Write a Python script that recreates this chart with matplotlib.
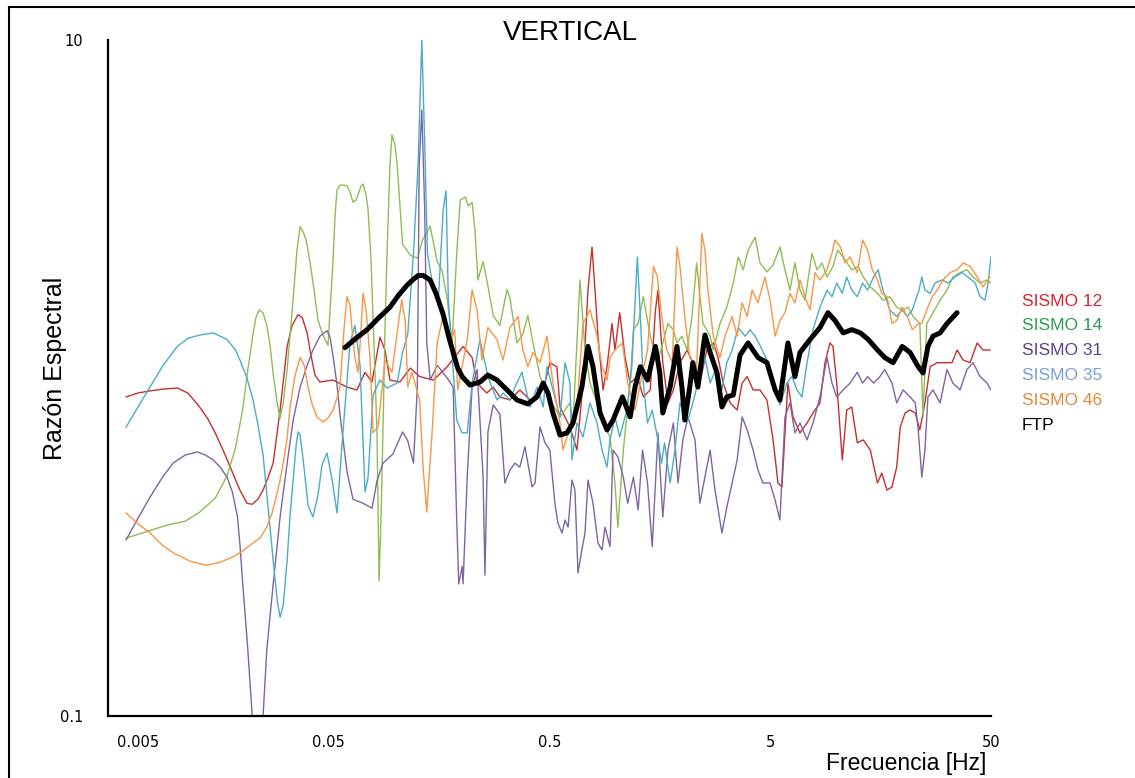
import matplotlib.pyplot as plt
from matplotlib.patches import Rectangle
from matplotlib.ticker import NullLocator
from matplotlib.transforms import ScaledTranslation

# SISMO 12
freq_12 = [0.00604, 0.00684, 0.00775, 0.00888, 0.0103, 0.0115, 0.0130, 0.0141, 0.0153, 0.0166,
           0.0179, 0.0191, 0.0198, 0.0213, 0.0225, 0.0239, 0.0252, 0.0265, 0.0280, 0.0301,
           0.0324, 0.0341, 0.0363, 0.0379, 0.0399, 0.0415, 0.0433, 0.0456, 0.0523,
           0.0605, 0.0671,
           0.0730, 0.0785, 0.0853, 0.0899, 0.0947, 0.105, 0.117, 0.129, 0.149, 0.172,
           0.203, 0.223, 0.235, 0.260, 0.278, 0.298, 0.331, 0.367, 0.408, 0.468,
           0.502, 0.540, 0.558, 0.619, 0.666, 0.709, 0.747, 0.779, 0.804, 0.829,
           0.874, 0.911, 0.960, 0.990, 1.04, 1.10, 1.16, 1.25, 1.33, 1.43,
           1.51, 1.55, 1.63, 1.72, 1.82, 1.95, 2.10, 2.23, 2.40, 2.58,
           2.76, 2.90, 3.06, 3.29, 3.54, 3.73, 3.93, 4.18, 4.49, 4.83,
           5.15, 5.42, 5.65, 5.83, 6.01, 6.34, 6.82, 7.34, 7.81, 8.40,
           8.85, 9.32, 9.62, 10.0, 10.6, 11.1, 11.7, 12.4, 13.2, 14.2,
           15.3, 16.0, 16.9, 17.8, 18.7, 19.4, 20.4, 21.5, 22.7, 23.8,
           25.1, 26.5, 28.5, 31.0, 33.3, 35.1, 37.4, 40.2, 43.3, 46.0, 49.5]
amp_12 = [0.879, 0.903, 0.916, 0.927, 0.934, 0.903, 0.821, 0.761, 0.688, 0.612,
          0.545, 0.492, 0.466, 0.426, 0.423, 0.438, 0.466, 0.506, 0.560, 0.804,
          1.24, 1.43, 1.54, 1.51, 1.36, 1.17, 1.02, 0.973, 0.986,
          0.940, 0.922,
          1.04, 0.973, 1.32, 1.21, 0.986, 0.973, 1.07, 1.01, 0.986, 1.08,
          1.24, 1.15, 0.966, 0.903, 0.940, 0.879, 0.861, 0.922, 0.861, 0.922,
          1.11, 1.08, 0.821, 0.716, 0.612, 0.966, 1.82, 2.44, 1.82, 1.33,
          0.922, 1.08, 1.45, 1.21, 1.56, 1.15, 0.966, 1.01, 0.879, 0.922,
          1.59, 1.82, 1.11, 0.844, 0.922, 1.11, 1.21, 1.11, 0.966, 1.21,
          1.27, 1.15, 0.966, 0.844, 0.804, 0.966, 1.01, 0.922, 0.922, 0.861,
          0.656, 0.489, 0.476, 0.688, 0.966, 0.767, 0.688, 0.736, 0.788, 0.844,
          1.11, 1.27, 1.24, 0.966, 0.572, 0.804, 0.821, 0.643, 0.656, 0.612,
          0.489, 0.523, 0.466, 0.476, 0.545, 0.716, 0.788, 0.804, 0.788, 0.702,
          0.844, 1.08, 1.11, 1.11, 1.11, 1.21, 1.13, 1.11, 1.27, 1.21, 1.21]

# SISMO 14
freq_14 = [0.00604, 0.00735, 0.00925, 0.0112, 0.0130, 0.0153, 0.0173, 0.0189, 0.0204, 0.0215,
           0.0227, 0.0234, 0.0242, 0.0252, 0.0262, 0.0271, 0.0280, 0.0292, 0.0301, 0.0311,
           0.0324, 0.0334, 0.0345, 0.0359, 0.0371, 0.0383, 0.0395, 0.0411, 0.0429, 0.0447,
           0.0471, 0.0496, 0.0523, 0.0534, 0.0545, 0.0562, 0.0586, 0.0605, 0.0624, 0.0644,
           0.0664, 0.0678, 0.0700, 0.0715, 0.0738, 0.0753, 0.0777, 0.0794, 0.0827, 0.0845,
           0.0862, 0.0880, 0.0899, 0.0918, 0.0947, 0.0967, 0.0998, 0.102, 0.105, 0.108,
           0.117, 0.126, 0.133, 0.144, 0.155, 0.163, 0.172, 0.181,
           0.190, 0.197, 0.208, 0.214, 0.223, 0.230, 0.237, 0.250, 0.260, 0.278,
           0.298, 0.321, 0.331, 0.356, 0.379, 0.399, 0.421, 0.453, 0.502, 0.558,
           0.619, 0.639, 0.687, 0.724, 0.763, 0.821, 0.874, 0.940, 0.990, 1.02,
           1.08, 1.16, 1.20, 1.26, 1.33, 1.43, 1.54, 1.63, 1.72, 1.82,
           1.89, 1.99, 2.10, 2.21, 2.32, 2.40, 2.48, 2.67, 2.76, 2.96,
           3.18, 3.40, 3.58, 3.77, 3.97, 4.27, 4.49, 4.83, 5.15, 5.53,
           5.83, 6.14, 6.47, 6.82, 7.18, 7.73, 8.14, 8.58, 9.04, 9.62,
           10.1, 10.9, 11.7, 12.5, 13.2, 14.2, 15.3, 16.2, 17.4, 18.7,
           19.8, 21.1, 22.2, 23.8, 24.6, 25.6, 27.3, 29.4, 31.6, 33.6,
           36.2, 38.9, 41.5, 44.6, 48.0, 50.0]
amp_14 = [0.336, 0.350, 0.367, 0.377, 0.401, 0.441, 0.513, 0.621, 0.810, 1.06,
          1.35, 1.51, 1.59, 1.56, 1.43, 1.25, 1.03, 0.844, 0.761, 0.844,
          1.06, 1.34, 1.72, 2.39, 2.81, 2.70, 2.56, 2.21, 1.82, 1.48,
          1.34, 1.25, 2.24, 3.03, 3.60, 3.72, 3.72, 3.70, 3.55, 3.31,
          3.36, 3.48, 3.70, 3.75, 3.48, 3.16, 2.24, 1.48, 0.693, 0.251,
          0.380, 0.693, 1.39, 2.34, 4.27, 5.24, 4.89, 4.30, 3.25, 2.49,
          2.31, 2.26, 2.56, 2.81, 2.21, 2.08, 1.72, 1.27,
          2.34, 3.36, 3.43, 3.23, 3.31, 2.72, 1.95, 2.21, 1.95, 1.53,
          1.43, 1.83, 1.72, 1.27, 1.35, 1.53, 1.27, 1.01, 0.861, 0.767,
          0.844, 0.736, 1.95, 1.21, 0.966, 0.844, 0.736, 0.669, 0.489, 0.362,
          0.612, 0.966, 1.39, 1.45, 1.74, 1.33, 1.11, 1.27, 1.45, 1.39,
          1.27, 1.33, 1.21, 1.52, 2.19, 1.74, 1.45, 1.33, 1.21, 1.45,
          1.62, 1.91, 2.28, 2.09, 2.39, 2.61, 2.19, 2.06, 2.16, 2.44,
          2.09, 1.82, 2.19, 1.82, 1.70, 2.34, 2.09, 2.19, 1.99, 2.14,
          2.39, 2.24, 2.09, 2.14, 1.99, 1.86, 1.78, 1.70, 1.74, 1.62,
          1.59, 1.62, 1.52, 1.45, 0.767, 1.45, 1.56, 1.70, 1.82, 1.99,
          2.05, 2.09, 1.99, 1.91, 1.95, 1.91]

# SISMO 31
freq_31 = [0.00604, 0.00684, 0.00775, 0.00878, 0.00986, 0.0112, 0.0127, 0.0138, 0.0150, 0.0161,
           0.0173, 0.0183, 0.0193, 0.0198, 0.0204, 0.0215, 0.0225, 0.0237, 0.0252, 0.0262,
           0.0280, 0.0292, 0.0301, 0.0324, 0.0345, 0.0371, 0.0399, 0.0424, 0.0456, 0.0491,
           0.0507, 0.0523, 0.0545, 0.0562, 0.0605, 0.0644,
           0.0715, 0.0785, 0.0827, 0.0880, 0.0977, 0.108, 0.114,
           0.121, 0.126, 0.1285, 0.132, 0.136, 0.139, 0.144, 0.155, 0.172, 0.183,
           0.190, 0.194, 0.201, 0.203, 0.212, 0.223, 0.235, 0.250, 0.255, 0.263,
           0.278, 0.298, 0.314, 0.331, 0.349, 0.367, 0.387, 0.417, 0.430, 0.453,
           0.477, 0.502, 0.529, 0.546, 0.570, 0.588, 0.607, 0.632, 0.652, 0.673,
           0.701, 0.724, 0.747, 0.787, 0.829, 0.865, 0.892, 0.940, 0.970, 1.02,
           1.08, 1.13, 1.20, 1.26, 1.32, 1.39, 1.46, 1.51, 1.55, 1.63,
           1.72, 1.82, 1.91, 2.01, 2.12, 2.28, 2.40, 2.53, 2.67, 2.81,
           3.02, 3.18, 3.36, 3.54, 3.73, 3.93, 4.18, 4.40, 4.63, 4.99,
           5.26, 5.53, 5.83, 6.14, 6.47, 6.82, 7.34, 7.81, 8.40, 9.04,
           9.52, 10.0, 10.7, 11.5, 12.4, 13.1, 13.8, 14.7, 15.7, 16.5,
           17.8, 18.7, 20.0, 21.5, 22.7, 23.4, 24.3, 25.1, 25.9, 27.3,
           29.4, 31.6, 33.6, 36.2, 38.9, 41.5, 44.6, 48.0, 50.0]
amp_31 = [0.332, 0.385, 0.444, 0.506, 0.560, 0.592, 0.604, 0.592, 0.572, 0.545,
          0.509, 0.460, 0.388, 0.321, 0.245, 0.157, 0.100, 0.074, 0.100, 0.157,
          0.245, 0.321, 0.388, 0.560, 0.751, 0.940, 1.09, 1.21, 1.33, 1.38,
          1.32, 1.16, 0.953, 0.782, 0.527, 0.438,
          0.426, 0.412, 0.496, 0.560, 0.596, 0.693, 0.652,
          0.560, 0.940, 4.30, 6.21, 3.16, 1.27, 0.986, 1.09, 1.00, 0.940,
          0.377, 0.246, 0.277, 0.246, 0.513, 0.940, 1.06, 0.513, 0.261, 0.693,
          0.832, 0.782, 0.489, 0.534, 0.560, 0.545, 0.626, 0.476, 0.489, 0.716,
          0.643, 0.612, 0.426, 0.372, 0.348, 0.380, 0.362, 0.499, 0.466, 0.265,
          0.310, 0.348, 0.499, 0.426, 0.325, 0.310, 0.362, 0.317, 0.612, 0.584,
          0.509, 0.426, 0.509, 0.407, 0.612, 0.489, 0.317, 0.489, 0.688, 0.388,
          0.612, 0.736, 0.489, 0.656, 0.767, 0.656, 0.426, 0.509, 0.612, 0.466,
          0.348, 0.415, 0.489, 0.572, 0.767, 0.702, 0.612, 0.534, 0.489, 0.489,
          0.435, 0.380, 0.767, 0.844, 0.688, 0.736, 0.656, 0.736, 0.879, 1.15,
          0.966, 0.879, 0.922, 0.966, 1.04, 0.966, 1.01, 0.966, 1.01, 1.06,
          0.966, 0.844, 0.922, 0.879, 0.844, 0.702, 0.509, 0.612, 0.879, 0.922,
          0.844, 1.06, 0.966, 0.922, 1.06, 1.11, 1.01, 0.966, 0.922]

# SISMO 35
freq_35 = [0.00604, 0.00684, 0.00775, 0.00888, 0.0103, 0.0115, 0.0130, 0.0150, 0.0173, 0.0189,
           0.0198, 0.0213, 0.0227, 0.0239, 0.0252, 0.0265, 0.0280, 0.0292, 0.0301, 0.0311,
           0.0324, 0.0334, 0.0345, 0.0356, 0.0363, 0.0371, 0.0383, 0.0403, 0.0424, 0.0447,
           0.0466, 0.0491, 0.0518, 0.0545,
           0.0580, 0.0624, 0.0657, 0.0693, 0.0730, 0.0753, 0.0794, 0.0853, 0.0918,
           0.102, 0.108, 0.114, 0.121, 0.127, 0.132, 0.136, 0.140, 0.149, 0.157,
           0.165, 0.170, 0.174, 0.183, 0.190, 0.201, 0.212, 0.223, 0.242, 0.263,
           0.289, 0.308, 0.331, 0.352, 0.375, 0.408, 0.439, 0.468, 0.487, 0.518,
           0.558, 0.588, 0.619, 0.632, 0.666, 0.709, 0.763, 0.821, 0.865, 0.911,
           0.940, 0.990, 1.04, 1.12, 1.18, 1.25, 1.29, 1.33, 1.39, 1.46,
           1.54, 1.61, 1.66, 1.76, 1.85, 1.95, 2.10, 2.23, 2.35, 2.53,
           2.67, 2.87, 3.02, 3.18, 3.36, 3.58, 3.85, 4.05, 4.27, 4.49,
           4.83, 5.15, 5.53, 5.95, 6.27, 6.61, 6.96, 7.34, 7.81, 8.40,
           9.04, 9.52, 10.0, 10.6, 11.1, 11.7, 12.4, 13.1, 13.8, 14.7,
           15.4, 16.2, 17.4, 18.7, 19.8, 20.9, 22.0, 23.6, 24.3, 25.1,
           26.5, 27.9, 30.0, 32.0, 34.3, 37.0, 39.3, 42.4, 44.6, 47.0,
           48.5, 50.0]
amp_35 = [0.716, 0.821, 0.940, 1.09, 1.24, 1.31, 1.34, 1.36, 1.30, 1.21,
          1.13, 1.00, 0.861, 0.726, 0.592, 0.420, 0.289, 0.220, 0.196, 0.213,
          0.289, 0.393, 0.499, 0.634, 0.693, 0.678, 0.572, 0.420, 0.388, 0.450,
          0.553, 0.600, 0.499, 0.399,
          0.693, 1.27, 1.43, 1.09, 0.460, 0.506, 0.891, 0.986, 0.934,
          0.966, 1.19, 1.35, 2.34, 4.30, 10.0, 4.99, 2.34, 1.82, 1.72,
          3.16, 3.58, 1.72, 1.06, 0.751, 0.688, 0.688, 0.966, 1.30, 1.01,
          0.861, 0.903, 0.861, 0.953, 1.04, 0.821, 0.940, 0.821, 1.08, 0.922,
          0.767, 1.11, 0.966, 0.572, 0.736, 0.669, 0.844, 0.736, 0.612, 0.545,
          0.656, 0.767, 0.669, 0.804, 1.08, 2.28, 1.52, 0.966, 0.736, 0.804,
          0.669, 0.560, 0.643, 0.489, 0.612, 0.844, 0.736, 0.844, 0.966, 1.15,
          0.966, 1.08, 0.922, 1.11, 1.21, 1.41, 1.33, 1.39, 1.33, 1.25,
          1.13, 0.966, 0.832, 0.966, 1.01, 0.922, 0.879, 1.11, 1.39, 1.62,
          1.82, 1.74, 1.91, 1.78, 1.99, 1.82, 1.74, 1.91, 1.82, 1.99,
          2.09, 1.82, 1.59, 1.52, 1.59, 1.52, 1.59, 1.82, 1.99, 1.82,
          1.78, 1.91, 1.95, 1.91, 1.99, 2.05, 1.99, 1.91, 1.74, 1.70,
          1.91, 2.28]

# SISMO 46
freq_46 = [0.00604, 0.00684, 0.00775, 0.00878, 0.00986, 0.0118, 0.0140, 0.0161, 0.0185, 0.0204,
           0.0227, 0.0244, 0.0262, 0.0277, 0.0292, 0.0301, 0.0311, 0.0324, 0.0334, 0.0352,
           0.0371, 0.0387, 0.0403, 0.0420, 0.0442, 0.0471, 0.0496, 0.0523, 0.0545, 0.0562,
           0.0586, 0.0605, 0.0624, 0.0637, 0.0657, 0.0678, 0.0693, 0.0715, 0.0738, 0.0769,
           0.0794, 0.0836, 0.0899, 0.0967, 0.102, 0.107, 0.111, 0.114, 0.119,
           0.129, 0.134, 0.139, 0.147, 0.155, 0.165, 0.177, 0.186, 0.192, 0.212,
           0.223, 0.235, 0.247, 0.263, 0.289, 0.308, 0.331, 0.360, 0.379, 0.399,
           0.421, 0.453, 0.487, 0.518, 0.558, 0.576, 0.619, 0.666, 0.709, 0.763,
           0.821, 0.865, 0.911, 0.940, 0.990, 1.07, 1.13, 1.22, 1.29, 1.39,
           1.48, 1.54, 1.61, 1.70, 1.80, 1.89, 1.95, 2.05, 2.16, 2.32,
           2.45, 2.53, 2.61, 2.76, 2.96, 3.12, 3.36, 3.54, 3.73, 3.93,
           4.14, 4.40, 4.73, 4.99, 5.26, 5.53, 5.83, 6.14, 6.47, 6.82,
           7.18, 7.57, 7.98, 8.40, 9.04, 9.52, 9.82, 10.4, 10.9, 11.5,
           12.4, 13.1, 13.8, 14.5, 15.3, 16.0, 16.9, 17.8, 18.7, 19.8,
           20.9, 22.0, 23.6, 24.3, 25.6, 27.1, 28.5, 30.3, 32.6, 35.1,
           37.4, 40.2, 43.3, 46.0, 49.5]
amp_46 = [0.399, 0.370, 0.348, 0.321, 0.304, 0.287, 0.279, 0.285, 0.296, 0.308,
          0.325, 0.336, 0.362, 0.399, 0.457, 0.499, 0.560, 0.665, 0.821, 1.02,
          1.15, 1.09, 0.940, 0.838, 0.767, 0.741, 0.761, 0.804, 0.873, 0.940,
          1.39, 1.74, 1.64, 1.39, 1.15, 1.04, 1.25, 1.78, 1.59, 1.15,
          0.688, 0.716, 1.13, 1.04, 1.36, 1.70, 1.48, 0.940, 1.04,
          0.861, 0.534, 0.401, 0.693, 1.27, 1.53, 1.27, 1.39, 0.922, 1.30,
          1.82, 1.59, 1.13, 1.41, 1.30, 1.13, 1.41, 1.52, 1.21, 1.08,
          1.19, 1.11, 1.33, 0.966, 0.736, 0.612, 0.716, 0.821, 1.45, 1.59,
          1.33, 1.08, 0.986, 1.15, 1.21, 1.27, 0.966, 0.804, 0.966, 1.21,
          2.14, 1.99, 1.52, 1.21, 1.11, 2.44, 2.14, 1.52, 1.15, 1.06,
          2.68, 2.39, 1.82, 1.33, 1.15, 1.33, 1.52, 1.33, 1.67, 1.52,
          1.82, 1.67, 1.99, 1.70, 1.33, 1.48, 1.56, 1.78, 1.67, 1.95,
          1.74, 1.59, 2.05, 1.95, 2.09, 2.34, 2.56, 2.44, 2.19, 2.28,
          2.05, 2.56, 2.39, 2.09, 1.95, 1.78, 1.74, 1.45, 1.48, 1.62,
          1.52, 1.39, 1.45, 1.45, 1.59, 1.74, 1.82, 1.95, 2.05, 2.09,
          2.19, 2.14, 1.99, 1.86, 1.99]

# FTP
freq_ftp = [0.0592, 0.0664, 0.0746, 0.0836, 0.0947, 0.103, 0.113, 0.121, 0.127, 0.134,
            0.144, 0.153, 0.165, 0.174, 0.183, 0.192, 0.201, 0.218,
            0.242, 0.263, 0.289, 0.321, 0.356, 0.399, 0.439, 0.468, 0.492, 0.518,
            0.558, 0.600, 0.639, 0.701, 0.747, 0.787, 0.847, 0.911, 0.970, 1.07,
            1.16, 1.22, 1.29, 1.39, 1.51, 1.58, 1.63, 1.76, 1.89, 1.99,
            2.05, 2.16, 2.23, 2.35, 2.53, 2.67, 2.87, 3.02, 3.18, 3.40,
            3.65, 3.97, 4.40, 4.83, 5.26, 5.53, 6.01, 6.47, 6.82, 7.57,
            8.40, 9.13, 9.82, 10.7, 11.7, 12.8, 13.9, 15.3, 16.5, 18.0,
            19.8, 21.5, 23.4, 24.6, 25.9, 27.3, 29.4, 31.6, 35.1]
amp_ftp = [1.23, 1.31, 1.39, 1.50, 1.62, 1.75, 1.88, 1.96, 2.01, 2.01,
           1.95, 1.78, 1.54, 1.34, 1.19, 1.07, 1.01, 0.953,
           0.973, 1.02, 0.986, 0.922, 0.861, 0.838, 0.879, 0.966, 0.903, 0.788,
           0.678, 0.688, 0.736, 0.940, 1.24, 1.08, 0.788, 0.702, 0.751, 0.879,
           0.767, 0.940, 1.08, 0.986, 1.24, 1.035, 0.788, 0.940, 1.24, 0.940,
           0.751, 0.940, 1.11, 0.940, 1.34, 1.19, 1.035, 0.821, 0.879, 0.891,
           1.17, 1.27, 1.15, 1.11, 0.922, 0.861, 1.27, 1.01, 1.19, 1.30,
           1.41, 1.56, 1.48, 1.36, 1.39, 1.36, 1.30, 1.21, 1.15, 1.11,
           1.24, 1.19, 1.08, 1.035, 1.24, 1.33, 1.36, 1.45, 1.56]

names = ['SISMO 12', 'SISMO 14', 'SISMO 31', 'SISMO 35', 'SISMO 46', 'FTP']
line_colors = ['#c4302f', '#8fbc55', '#8064a2', '#4bacc6', '#f79646', 'black']
label_colors = ['#d3272d', '#2a9d50', '#5b4290', '#7a9fdc', '#e3873a', 'black']

W, H = 1135, 778
fig = plt.figure(figsize=(W / 100, H / 100), dpi=100)
ax = fig.add_axes([108 / W, 62 / H, 883 / W, 676 / H])

data = [(freq_12, amp_12), (freq_14, amp_14), (freq_31, amp_31),
        (freq_35, amp_35), (freq_46, amp_46)]
for (f, a), c in zip(data, line_colors[:5]):
    ax.plot(f, a, color=c, lw=1.0)
ax.plot(freq_ftp, amp_ftp, color='black', lw=3.6, solid_capstyle='round',
        solid_joinstyle='round')

ax.set_xscale('log')
ax.set_yscale('log')
ax.set_xlim(0.005, 50)
ax.set_ylim(0.1, 10)
ax.spines['top'].set_visible(False)
ax.spines['right'].set_visible(False)
for s in ['left', 'bottom']:
    ax.spines[s].set_linewidth(1.6)
    ax.spines[s].set_color('black')
ax.xaxis.set_minor_locator(NullLocator())
ax.yaxis.set_minor_locator(NullLocator())
ax.tick_params(length=0)

ax.set_xticks([0.005, 0.05, 0.5, 5, 50])
ax.set_xticklabels(['0.005', '0.05', '0.5', '5', '50'], fontsize=10.5)
ax.set_yticks([0.1, 10])
ax.set_yticklabels(['0.1', '10'], fontsize=10.5)
ax.tick_params(axis='x', pad=14)
ax.tick_params(axis='y', pad=18)
first = ax.get_xticklabels()[0]
first.set_transform(first.get_transform() + ScaledTranslation(0.3, 0, fig.dpi_scale_trans))

plt.rcParams['font.family'] = ['Liberation Sans', 'DejaVu Sans']
fig.text(570 / W, 1 - 33 / H, 'VERTICAL', ha='center', va='center', fontsize=20)
fig.text(55 / W, 1 - 368 / H, 'Razón Espectral', rotation=90, ha='center',
         va='center', fontsize=18)
fig.text(906 / W, 1 - 775 / H, 'Frecuencia [Hz]', ha='center', va='bottom',
         fontsize=16.5)

for i, (name, c) in enumerate(zip(names, label_colors)):
    fig.text(1022 / W, 1 - (301 + 24.8 * i) / H, name, color=c, ha='left',
             va='center', fontsize=12.5)

fig.add_artist(Rectangle((9 / W, -0.1), 1.2, 1.1 - 7 / H, transform=fig.transFigure,
                         fill=False, lw=1.5, edgecolor='black', clip_on=False))

fig.savefig('out.png', dpi=100)
